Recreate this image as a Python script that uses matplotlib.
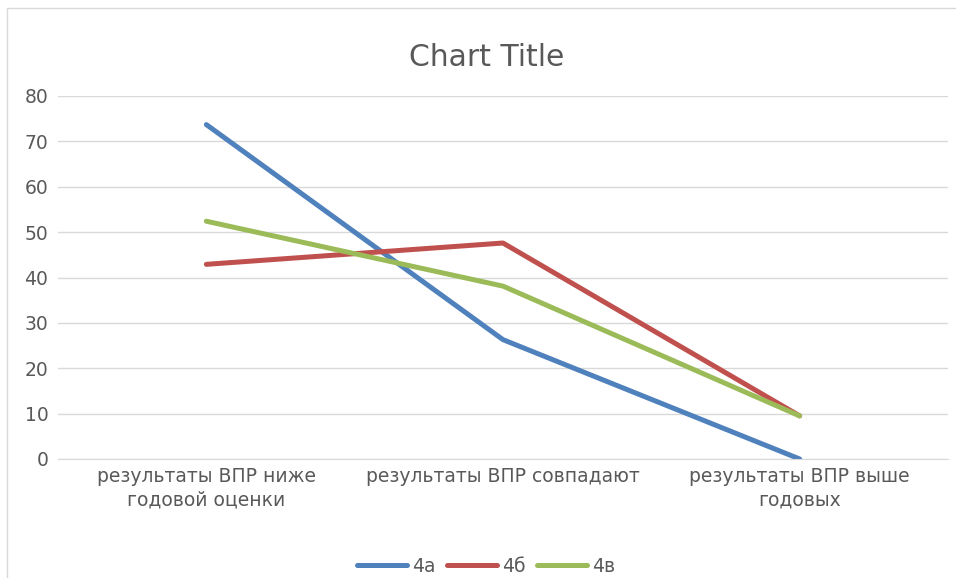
import matplotlib
matplotlib.use("Agg")
from matplotlib import pyplot as plt
from matplotlib.patches import Rectangle

categories = ["результаты ВПР ниже\nгодовой оценки",
              "результаты ВПР совпадают",
              "результаты ВПР выше\nгодовых"]
series_names = ["4а", "4б", "4в"]
values_4a = [73.7, 26.3, 0.0]
values_4b = [42.9, 47.6, 9.5]
values_4v = [52.4, 38.1, 9.5]
colors = ["#4f81bd", "#c0504d", "#9bbb59"]

plt.rcParams['font.family'] = ['DejaVu Sans']
text_color = "#595959"
grid_color = "#d9d9d9"
fs = 13.5

fig = plt.figure(figsize=(9.56, 5.78), dpi=100)
ax = fig.add_axes([58 / 956, 1 - 459 / 578, 890 / 956, 363 / 578])

x = list(range(len(categories)))
for vals, name, c in zip([values_4a, values_4b, values_4v], series_names, colors):
    ax.plot(x, vals, color=c, lw=3.6, label=name,
            solid_capstyle='round', solid_joinstyle='round')

ax.set_xlim(-0.5, len(categories) - 0.5)
ax.set_ylim(0, 80)
ax.set_yticks(range(0, 81, 10))
ax.set_xticks(x)
ax.set_xticklabels(categories, fontsize=fs, color=text_color, linespacing=1.3)
ax.tick_params(axis='y', labelsize=fs, labelcolor=text_color, length=0, pad=7)
ax.tick_params(axis='x', length=0, pad=6)
ax.grid(axis='y', color=grid_color, lw=1)
ax.set_axisbelow(True)
for s in ["top", "right", "left"]:
    ax.spines[s].set_visible(False)
ax.spines["bottom"].set_color(grid_color)

fig.text(487 / 956, 1 - 58 / 578, "Chart Title", ha='center', va='center',
         fontsize=21.5, color=text_color)

leg = fig.legend(loc='center', bbox_to_anchor=(486 / 956, 1 - 566 / 578), ncol=3,
                 frameon=False, fontsize=fs, handlelength=2.7, columnspacing=0.6,
                 handletextpad=0.25)
for t in leg.get_texts():
    t.set_color(text_color)

fig.patches.append(Rectangle((7 / 956, -0.01), 1.0, 1 - 8 / 578 + 0.01,
                             transform=fig.transFigure, fill=False,
                             edgecolor=grid_color, lw=1))

plt.savefig("out.png", dpi=100)
